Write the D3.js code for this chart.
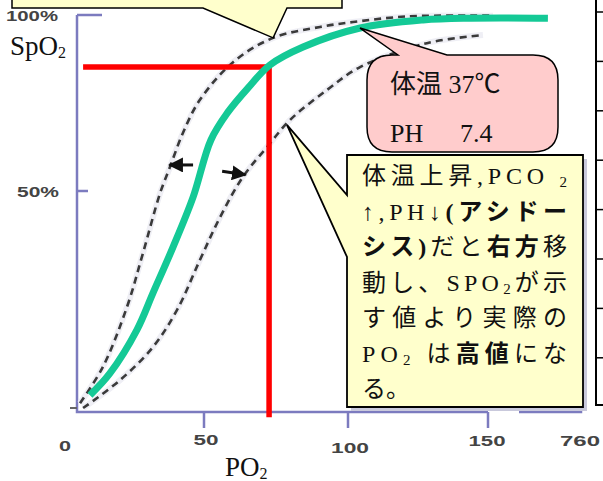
<!DOCTYPE html>
<html><head><meta charset="utf-8">
<script src="https://cdn.jsdelivr.net/npm/d3@7/dist/d3.min.js"></script>
<style>html,body{margin:0;padding:0;background:#fff;overflow:hidden}</style>
</head><body><svg id="c" width="603" height="481"></svg>
<script>
// ---- data ----
const xTickValues = [0, 50, 100, 150, 760];
const xTickLabels = ["0", "50", "100", "150", "760"];
const yTickValues = [0, 50, 100];
const yTickLabels = ["", "50%", "100%"];
// normal oxygen dissociation curve [PO2, SpO2]
const normalCurve = [[5.1,3.8],[13.0,8.8],[23.6,18.6],[29.9,26.9],[37.8,37.3],[45.7,48.6],[52.4,64.5],[58.3,72.4],[65.3,79.3],[72.9,85.8],[84.4,90.9],[104.3,96.3],[126.8,98.6],[143.6,99.1],[543,99.1]];
// left-shifted curve (dashed)
const leftShiftCurve = [[1.2,2.0],[10.2,10.2],[19.7,23.8],[26.0,36.0],[32.7,49.5],[36.6,56.8],[41.7,66.5],[48.4,75.9],[60.1,86.6],[74.0,93.5],[90.3,96.6],[101.8,98.0],[121.4,99.6],[183,99.8]];
// right-shifted curve (dashed)
const rightShiftCurve = [[2.4,0.9],[16.9,7.2],[29.9,14.7],[39.4,23.1],[48.4,34.4],[55.6,44.1],[63.5,54.0],[71.9,62.5],[79.9,70.2],[92.7,78.7],[104.3,85.2],[128.2,92.0],[148.2,94.3]];
const readingPO2 = 72.6, readingSpO2 = 85.2;
const readingLineStart = 2.4, readingLineEnd = -1.2;
const shiftArrows = [{from:[45.7,57.4], to:[36.4,57.4]}, {from:[56.3,55.6], to:[64.4,54.6]}];
const calloutTargets = {top:[74.0,93.5], pink:[104.3,96.3], note:[78.8,68.8]};
const pinkLines = ["体温 37℃", "PH", "7.4"];
const noteLines = [
  [["体温上昇,PCO ",""],["2","sub"]],
  [["↑,PH↓",""],["(アシドー","b"]],
  [["シス)","b"],["だと",""],["右方","b"],["移",""]],
  [["動し、SPO",""],["2","sub"],["が示",""]],
  [["す値より実際の",""]],
  [["PO",""],["2","sub"],[" は",""],["高値","b"],["にな",""]],
  [["る。",""]]
];

// ---- drawing ----
const svg = d3.select("#c");
const x = d3.scaleLinear().domain(xTickValues).range([77,204,348,488,581]);
const y = d3.scaleLinear().domain(yTickValues).range([412,191,15]);
const axisColor = "#7C7BBF";
const serif = "'Liberation Serif','Noto Sans CJK JP',serif";
const sans = "'Liberation Sans','DejaVu Sans',sans-serif";

// axes
const g = svg.append("g");
const x0 = x(0), y0 = y(0);
g.append("path").attr("d", `M${x0},${y(100)}L${x0},${y0}L${x(150)},${y0}`)
  .attr("fill","none").attr("stroke",axisColor).attr("stroke-width",2.5);
g.append("path").attr("d", `M${x(150)+31},${y0}L${x(760)},${y0}L${x(760)},${y0-7}`)
  .attr("fill","none").attr("stroke",axisColor).attr("stroke-width",2.5);
g.selectAll(".xt").data([50,100,150]).enter().append("line")
  .attr("x1",d=>x(d)).attr("x2",d=>x(d)).attr("y1",y0).attr("y2",y0+16)
  .attr("stroke",axisColor).attr("stroke-width",2.5);
g.append("line").attr("x1",x0).attr("x2",x0+25).attr("y1",y(100)).attr("y2",y(100)).attr("stroke",axisColor).attr("stroke-width",2.5);
g.append("line").attr("x1",x0).attr("x2",x0+11).attr("y1",y(50)).attr("y2",y(50)).attr("stroke",axisColor).attr("stroke-width",2.5);
g.append("line").attr("x1",x0-7).attr("x2",x0).attr("y1",y0-4).attr("y2",y0-4).attr("stroke","#666").attr("stroke-width",2);

// tick labels
const xLabDx = [-12,2,2,-1,-1], xLabY = [451,445,453,446,446], xLabW = [12,25,38,37,40];
g.selectAll(".xl").data(xTickValues).enter().append("text")
  .attr("x",(d,i)=>x(d)+xLabDx[i]).attr("y",(d,i)=>xLabY[i])
  .attr("text-anchor","middle").attr("font-family",sans).attr("font-size",15).attr("font-weight","bold")
  .attr("fill","#444").attr("textLength",(d,i)=>xLabW[i]).attr("lengthAdjust","spacingAndGlyphs")
  .text((d,i)=>xTickLabels[i]);
const yLabX = [0,17,6], yLabW = [0,42,52];
g.selectAll(".yl").data(yTickValues).enter().filter((d,i)=>yTickLabels[i]!=="").append("text")
  .attr("x",d=>yLabX[yTickValues.indexOf(d)]).attr("y",d=>y(d)+6)
  .attr("font-family",sans).attr("font-size",15).attr("font-weight","bold").attr("fill","#444")
  .attr("textLength",d=>yLabW[yTickValues.indexOf(d)]).attr("lengthAdjust","spacingAndGlyphs")
  .text(d=>yTickLabels[yTickValues.indexOf(d)]);

// axis titles
const t1 = svg.append("text").attr("x",10).attr("y",55).attr("font-family",serif).attr("font-size",27).attr("fill","#111");
t1.append("tspan").text("SpO");
t1.append("tspan").attr("font-size",16).attr("dy",3).text("2");
const t2 = svg.append("text").attr("x",225).attr("y",476).attr("font-family",serif).attr("font-size",27).attr("fill","#111");
t2.append("tspan").text("PO");
t2.append("tspan").attr("font-size",16).attr("dy",3).text("2");

// curves
const line = d3.line().x(d=>x(d[0])).y(d=>y(d[1])).curve(d3.curveCatmullRom.alpha(0.5));
[leftShiftCurve, rightShiftCurve].forEach(c=>{
  svg.append("path").attr("d",line(c)).attr("fill","none").attr("stroke","#efeff5").attr("stroke-width",6);
  svg.append("path").attr("d",line(c)).attr("fill","none").attr("stroke","#3a3a3a")
    .attr("stroke-width",2.6).attr("stroke-dasharray","7,5");
});

// red reading lines
svg.append("path")
  .attr("d",`M${x(readingLineStart)},${y(readingSpO2)}L${x(readingPO2)},${y(readingSpO2)}L${x(readingPO2)},${y(readingLineEnd)}`)
  .attr("fill","none").attr("stroke","#FF0000").attr("stroke-width",5.5);

// green normal curve
svg.append("path").attr("d",line(normalCurve)).attr("fill","none").attr("stroke","#14C996").attr("stroke-width",7);

// arrows
const defs = svg.append("defs");
defs.append("marker").attr("id","ah").attr("viewBox","0 0 10 10").attr("refX",9).attr("refY",5)
  .attr("markerWidth",5).attr("markerHeight",5).attr("orient","auto").attr("markerUnits","strokeWidth")
  .append("path").attr("d","M0,0L10,5L0,10Z").attr("fill","#111");
svg.selectAll(".arr").data(shiftArrows).enter().append("line")
  .attr("x1",d=>x(d.from[0])).attr("y1",d=>y(d.from[1])).attr("x2",d=>x(d.to[0])).attr("y2",d=>y(d.to[1]))
  .attr("stroke","#111").attr("stroke-width",3).attr("marker-end","url(#ah)");

// top callout
const tt = [x(calloutTargets.top[0]), y(calloutTargets.top[1])];
svg.append("path").attr("d",`M12,-40L342,-40L342,8L287,8L${tt[0]},${tt[1]}L203,8L12,8Z`)
  .attr("fill","#FFFFCC").attr("stroke","#000").attr("stroke-width",1.5);

// pink callout
const pt = [x(calloutTargets.pink[0]), y(calloutTargets.pink[1])];
svg.append("path").attr("d",`M398,55L${pt[0]},${pt[1]}L447,55L533,55Q558,55 558,80L558,127Q558,152 533,152L392,152Q367,152 367,127L367,80Q367,55 392,55Z`)
  .attr("fill","#FFCCCC").attr("stroke","#000").attr("stroke-width",1.5);
svg.append("text").attr("x",390).attr("y",93).attr("font-family",serif).attr("font-size",26).attr("fill","#111").text(pinkLines[0]);
svg.append("text").attr("x",390).attr("y",142).attr("font-family",serif).attr("font-size",26).attr("fill","#111").text(pinkLines[1]);
svg.append("text").attr("x",460).attr("y",142).attr("font-family",serif).attr("font-size",26).attr("fill","#111").text(pinkLines[2]);

// note callout
const nt = [x(calloutTargets.note[0]), y(calloutTargets.note[1])];
svg.append("rect").attr("x",351).attr("y",159).attr("width",236).attr("height",252).attr("fill","#c9c9dc");
svg.append("path").attr("d",`M347,155L583,155L583,407L347,407L347,257L${nt[0]},${nt[1]}L347,195Z`)
  .attr("fill","#FFFFCC").attr("stroke","#000").attr("stroke-width",1.8);
noteLines.forEach((segs,i)=>{
  const t = svg.append("text").attr("x",362).attr("y",184+i*35.5)
    .attr("font-family",serif).attr("font-size",24).attr("fill","#111");
  if (i < noteLines.length-1) t.attr("textLength",205).attr("lengthAdjust","spacing");
  let sub = false;
  segs.forEach(([s,k])=>{
    const sp = t.append("tspan").text(s);
    if (k==="b") sp.attr("font-weight","bold");
    if (k==="sub") { sp.attr("font-size",15).attr("dy",3); sub = true; }
    else if (sub) { sp.attr("dy",-3); sub = false; }
  });
});

// right-hand table edge
const tableRows = d3.range(8);
svg.append("path").attr("d","M596,0L596,405L603,405").attr("fill","none").attr("stroke","#000").attr("stroke-width",2);
svg.selectAll(".tr").data(tableRows).enter().append("line")
  .attr("x1",596).attr("x2",603).attr("y1",i=>12+i*49.4).attr("y2",i=>12+i*49.4)
  .attr("stroke","#000").attr("stroke-width",1.5);
</script></body></html>
